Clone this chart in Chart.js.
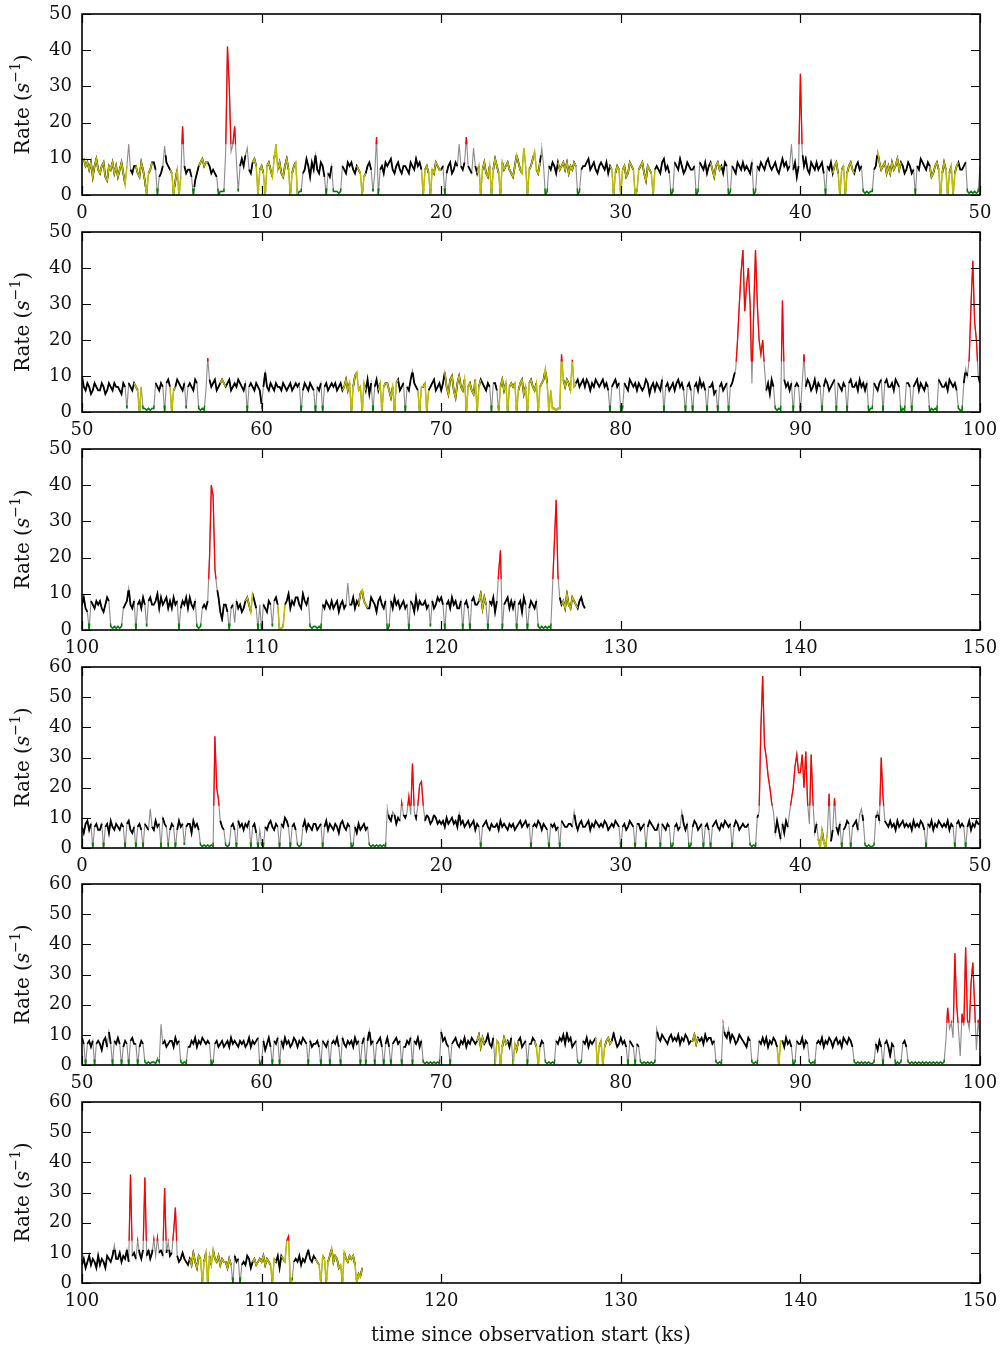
<!DOCTYPE html>
<html><head><meta charset="utf-8">
<script src="https://cdn.jsdelivr.net/npm/chart.js@4.4.0/dist/chart.umd.min.js"></script>
<style>
html,body{margin:0;padding:0;background:#fff;}
#wrap{position:relative;width:1002px;height:1351px;overflow:hidden;background:#fff;}
#wrap canvas{position:absolute;left:0;}
</style></head><body><div id="wrap"></div>
<script>
// ---- sampling of the light curves (ks) ----
const STEP_KS = 0.1;
const panelStarts = [0, 50, 100, 0, 50, 100];
const panelEnds   = [50, 100, 150, 50, 100, 150];
const panelYMax   = [50, 50, 50, 60, 60, 60];
const xTickStep = 10;
const yTickStep = 10;

// ---- count rates (s^-1), one value every STEP_KS, one row per ks ----
const rate1 = [
10,10,8,9,7,9,5,8,10,7,
6,8,9,5,4,8,7,9,6,8,
5,7,9,6,3,8,14,7,6,8,
8,6,5,9,7,4,0,6,7,9,
9,7,0,5,6,8,13.5,9,8,7,
6,0,4,7,0,5,19,8,6,7,
7,5,0,4,6,8,9,10,8,9,
9,8,6,7,6,5,0,1,1,1,
12,41,30,12,14,19,9,1,8,10,
8,11,13,7,6,9,10,8,0,7,
8,6,0,8,9,7,5,10,14,7,
9,6,5,8,10,7,0,6,8,9,
0,1,1,6,7,10,8,5,9,7,
11,7,6,9,8,5,0,6,5,8,
1,1,1,0.5,1,8,7,6,9,8,
9,7,6,8,7,6,0,5,6,8,
9,7,1,6,16,0,7,8,6,9,
8,9,10,7,6,8,9,7,6,8,
8,7,6,9,8,7,10,8,9,7,
0,7,8,6,0,7,6,9,8,7,
7,8,0,6,8,9,6,7,9,8,
14,8,7,9,16,8,7,6,13,8,
6,8,0,7,9,6,5,8,0,7,
10,8,6,0,9,7,8,9,7,6,
5,8,11,9,7,6,13,8,0,7,
8,10,12,7,6,9,13,8,0,1,
8,7,9,8,6,9,7,8,9,7,
9,6,8,7,9,8,0,1,7,8,
8,9,10,7,8,9,7,6,8,9,
8,7,9,6,8,7,0,6,8,7,
0,7,8,5,6,9,8,7,0,1,
7,8,9,6,4,8,7,6,0,7,
8,7,6,9,10,7,8,6,0,1,
9,8,7,10,8,6,7,9,8,7,
7,8,0,1,9,8,7,9,6,8,
9,7,5,8,9,7,8,6,9,8,
0,1,8,7,6,9,8,7,9,7,
8,7,6,9,0,1,8,7,9,8,
7,9,10,8,7,8,9,7,6,8,
10,8,9,7,8,14,7,9,5,8,
33.5,12,8,10,7,6,9,8,7,9,
7,8,9,6,0,8,7,9,6,8,
9,6,0,7,8,0,6,8,9,7,
6,8,9,7,8,1,0.5,1,0.5,1,
1,7,8,12,9,7,8,9,6,8,
6,9,7,8,10,7,9,8,6,7,
9,8,6,7,0,8,7,10,9,8,
7,9,8,5,6,8,9,7,0,6,
9,7,0,6,8,0,6,8,9,7,
7,8,9,1,0.5,1,0.5,1,0.5,1,
8];
const rate2 = [
10,7,6,8,7,5,6,8,7,6,
6,8,7,5,6,8,7,6,8,7,
7,6,5,8,7,1,8,7,6,8,
7,6,0,7,1,1,0.5,1,0.5,1,
1,8,7,6,8,7,0,8,9,7,
0,6,7,9,8,7,6,8,1,7,
8,7,6,9,8,1,0.5,1,0.5,6,
15,9,7,8,9,6,7,8,9,8,
7,8,9,6,7,8,7,9,8,7,
6,8,0,7,8,7,6,8,7,6,
2,7,11,7,6,8,7,6,8,7,
7,6,8,7,6,7,8,6,7,8,
7,8,0,6,8,7,6,8,7,6,
0,7,6,8,0,7,8,6,7,8,
7,8,6,7,8,6,7,9,6,8,
0,7,10,11,6,7,0,8,6,9,
5,8,0,7,9,6,8,0,7,8,
8,6,4,7,0,8,9,6,7,8,
0,7,6,9,11.5,8,7,6,0,7,
7,8,0,6,7,8,9,6,7,8,
6,8,11,7,5,9,10,6,4,8,
10,7,6,9,0,7,8,6,5,9,
0,7,9,8,7,6,8,7,0,8,
8,6,0,7,9,6,8,0,7,8,
7,8,0,6,8,9,5,7,0,8,
9,7,6,8,0,7,8,9,12,8,
0,6,1,1,0.5,1,1,16,9,7,
9,8,6,14.5,7,8,9,7,8,9,
7,9,8,6,8,7,9,8,7,8,
9,7,8,6,0,7,8,9,7,8,
0,1,8,7,6,9,8,7,8,6,
8,7,6,7,9,8,5,7,8,6,
8,7,6,9,0,7,8,6,7,8,
6,8,9,7,8,6,0,7,8,6,
0,7,8,6,9,7,8,6,0,7,
7,8,5,6,0,7,8,6,7,8,
0,7,8,10,12,20,30,39,45,28,
35,40,30,8,28,45,30,20,16,20,
12,6,8,5,9,7,1,0.5,1,0.5,
31,9,7,8,6,8,0,7,8,7,
0,8,16,7,9,8,6,7,9,6,
8,7,0,7,9,8,6,7,8,9,
0,8,7,6,8,7,0,8,9,7,
7,8,6,9,7,8,6,8,0,1,
1,8,7,6,8,9,0,8,9,7,
7,8,6,9,8,7,0,1,0.5,8,
8,7,0,7,8,9,6,8,7,6,
8,7,0,1,0.5,1,0.5,9,8,7,
7,8,6,9,8,7,8,6,1,0.5,
0.5,8,12,10,15,30,42,25,20,10,
8];
const rate3 = [
7,9,6,5,0,8,7,6,8,7,
8,6,5,7,9,8,1,0.5,1,0.5,
1,0.5,1,6,7,8,11.5,7,6,8,
0,7,8,6,9,7,1,8,9,7,
7,8,10,6,9,7,8,9,6,8,
6,9,7,8,0,6,8,7,9,6,
9,7,6,8,1,0.5,1,6,7,6,
8,20,40,37,17,12,9,5,3,7,
7,5,0,6,7,2,8,6,7,5,
6,8,9,7,5,10,8,6,0,7,
0,7,6,5,8,7,1,8,9,7,
0,0.5,1,7,8,10,6,8,7,9,
9,7,6,10,8,7,9,1,0.5,1,
1,0.5,1,0.5,7,6,8,7,6,8,
6,7,8,5,7,8,6,7,13,7,
7,9,6,8,7,10,11,8,7,6,
6,9,8,7,5,8,9,7,6,8,
0,1,8,6,9,7,8,6,7,8,
6,7,0,8,7,5,9,6,8,7,
7,8,6,7,1,8,6,7,9,8,
9,7,0,7,8,6,9,7,8,6,
6,8,0,7,8,6,0,8,9,7,
7,8,10,6,9,7,0,8,7,9,
5,8,16,22,0,7,8,9,6,8,
6,8,0,7,8,5,9,7,0,6,
8,7,6,8,1,0.5,1,0.5,1,0.5,
1,0.5,12,24,36,15,9,7,8,6,
10,7,6,9,8,7,6,8,9,7,
6];
const rate4 = [
7,5,8,9,6,8,0,7,8,6,
6,8,0,7,8,5,9,7,6,8,
7,6,8,7,0,8,9,6,5,7,
0,7,8,6,0,8,7,6,13,7,
6,9,7,8,0,10,8,7,1,6,
8,7,0,6,9,7,8,1,7,8,
8,5,9,7,8,6,1,0.5,1,0.5,
1,0.5,1,0.5,37,20,16,9,7,6,
1,0.5,1,7,8,6,0,9,7,8,
6,8,7,9,0,7,8,5,0,6,
1,0.5,7,6,8,9,7,6,8,7,
0,8,7,10,9,7,0,7,8,6,
1,0.5,1,7,9,6,8,7,6,8,
8,6,7,8,0,7,9,6,8,7,
6,8,7,5,8,9,7,6,8,7,
0,1,7,5,8,6,7,8,6,7,
1,0.5,1,0.5,1,0.5,1,0.5,1,0.5,
13,10,9,12,11,8,10,9,15,11,
10,12,17,11,28,12,10,14,21,22,
14,9,11,10,8,9,11,10,8,9,
8,9,7,10,8,9,10,8,9,7,
11.5,8,9,7,8,9,7,8,9,6,
8,7,0,7,8,9,7,6,8,7,
7,8,6,9,7,8,7,6,8,7,
8,6,7,8,9,7,8,9,7,8,
0,7,8,7,9,8,6,8,7,6,
0,8,7,8,6,7,0,9,8,7,
7,8,8,7,12,8,6,8,9,7,
7,8,9,6,8,7,9,8,7,8,
7,9,8,6,7,8,7,9,8,7,
0,7,8,6,7,9,8,7,0,8,
8,6,7,8,0,7,9,8,7,6,
6,8,0,8,7,6,8,7,0,1,
7,8,6,7,12,8,6,8,0,1,
7,9,8,6,7,8,0,7,8,6,
0,7,8,9,7,6,8,7,9,8,
7,8,0,7,9,8,6,7,8,7,
7,8,1,0.5,1,0.5,10,12,40,57,
34,30,24,20,15,12,5,9,6,3,
8,5,9,7,12,16,20,27,31,25,
25,31,20,32,15,8,31,15,5,8,
3,0,6,2,0,5,18,2,6,16.5,
7,5,8,0,6,7,9,8,0,7,
8,9,6,11,13,9,1,0.5,1,0.5,
0.5,1,10,12,9,30,17,9,8,7,
9,7,8,6,9,7,8,9,7,8,
7,8,6,9,7,8,7,9,8,6,
0,8,7,9,6,8,7,9,8,7,
8,7,9,6,8,7,0,8,9,7,
8,7,0,7,9,6,8,7,9,8,
8];
const rate5 = [
9,7,0,7,8,6,8,0,7,8,
7,5,8,9,6,11,7,0,8,7,
9,7,0,6,8,7,0,8,9,7,
7,0,6,8,7,1,0.5,1,0.5,1,
1,0.5,2,1,13.5,7,8,6,7,8,
8,6,9,7,8,1,0.5,1,0.5,6,
6,8,7,9,6,8,7,9,8,7,
8,7,0,1,7,8,6,7,8,6,
7,8,6,9,7,8,7,6,8,7,
8,6,7,9,6,8,7,8,9,0,
1,8,5,7,9,6,0,8,7,9,
0,8,6,9,7,8,6,7,9,8,
6,8,7,9,8,7,0,8,6,7,
7,8,6,0,8,7,6,8,0,7,
8,7,9,6,0,9,7,6,8,7,
8,6,9,7,8,0,7,9,0,8,
11.5,7,8,0,7,8,9,6,0,7,
9,6,0,7,8,9,7,8,0,6,
6,8,7,9,0,8,7,9,6,8,
1,0.5,1,0.5,1,0.5,1,0.5,1,0.5,
11,8,9,7,6,0,7,8,9,7,
6,8,7,9,6,8,7,9,8,7,
8,10,6,9,7,8,10,7,6,9,
0,8,7,0,6,9,7,8,6,9,
0,7,5,8,9,6,7,8,0,7,
7,9,8,6,0,6,8,7,1,0.5,
1,0.5,1,0.5,8,7,9,8,10,7,
10.5,8,9,6,7,8,1,0.5,1,8,
7,9,6,8,7,8,9,0,6,8,
0,6,8,9,7,8,10.5,8,6,7,
9,7,8,6,0,8,7,6,0,7,
6,1,0.5,1,0.5,1,0.5,1,0.5,1,
12,9,8,10,9,8,7,9,10,8,
9,8,10,7,9,8,10,9,7,8,
8,10,7,9,8,9,7,10,8,9,
9,7,8,1,0.5,1,0.5,13.5,10,9,
12,8,10,9,7,8,10,9,8,7,
6,9,8,1,0.5,1,0.5,8,7,9,
7,9,6,8,7,9,8,6,0,8,
8,6,9,7,8,6,0,1,8,7,
7,9,6,8,7,1,0.5,1,0.5,7,
8,7,9,6,8,7,9,8,6,8,
9,7,8,6,9,8,7,9,8,6,
1,0.5,1,0.5,1,0.5,1,0.5,1,0.5,
0.5,1,7,5,8,6,0,7,8,6,
3,7,6,0,1,0.5,1,7,8,6,
1,0.5,1,0.5,1,0.5,1,0.5,1,0.5,
1,0.5,1,0.5,1,0.5,1,0.5,1,0.5,
1,8,19,12,14,9,37,20,12,3,
17,13,39,15,12,27,34,20,5,15,
8];
const rate6 = [
6,8,5,7,9,6,8,7,5,9,
6,8,7,5,9,8,7,9,12.5,8,
8,10,7,9,8,11,7,36,9,10,
8,14,10,8,11,35,9,11,8,10,
14.5,9,15,10,11,9,31.5,10,13.5,9,
10,17,25,9,7,8,10,8,7,6,
8,6,10,7,5,9,8,0,7,10,
0,9,6,11,8,7,9,6,8,7,
7,5,8,6,0,9,7,8,0,6,
7,6,9,8,5,7,8,6,7,8,
7,9,6,8,7,6,0,8,7,9,
5,9,8,7,14,15.5,0,1,7,8,
7,9,6,8,7,9,11,8,7,9,
8,7,6,0,9,8,0,7,9,11.5,
7,9,8,5,6,0,10,8,7,9,
8,9,6,0,3,2,5];

// ---- time ranges (ks) drawn in yellow ----
const yellow1 = [[0,2.5],[3.0,3.9],[4.9,5.5],[6.5,7.0],[9.5,12.0],[15.3,15.8],[18.9,20.0],[22.0,25.5],[26.5,27.5],[29.4,31.9],[35.0,35.6],[41.8,43.0],[44.3,45.6],[47.2,48.8]];
const yellow2 = [[52.9,53.3],[54.9,55.2],[57.7,58.0],[64.5,65.8],[66.5,67.6],[68.7,69.3],[70.2,72.2],[73.2,77.5]];
const yellow3 = [[109.1,109.5],[110.9,111.3],[115.4,115.9],[122.1,122.5],[126.7,127.6]];
const yellow4 = [[41.0,41.5]];
const yellow5 = [[72.0,72.4],[73.0,73.7],[74.0,74.3],[75.2,75.5],[78.6,79.5],[83.9,84.3],[88.7,89.0]];
const yellow6 = [[106.0,108.3],[109.5,110.8],[111.1,111.7],[113.0,115.8]];

// ---- rate thresholds used for colouring ----
const lowLevel = 1.8;              // green below
const midLow = 2.2, midHigh = 11;  // black band
const flareLevel = 14;             // red above
const jumpLimit = 4.5;             // steep steps shown grey

const yLabelText = ['Rate (', 's', '\u22121', ')'];
const xLabelText = 'time since observation start (ks)';

const allRates = [rate1, rate2, rate3, rate4, rate5, rate6];
const allYellow = [yellow1, yellow2, yellow3, yellow4, yellow5, yellow6];

// ---- layout (pixels) ----
const plotTops = [14, 232, 449, 667, 884, 1102];
const plotBottoms = [195, 412, 630, 848, 1065, 1283];
const PADTOP = 30, PADRIGHT = 60, CANVAS_W = 1040, XAXIS_H = 32, XAXIS_H_LAST = 70;

const GRAY = '#8c8c8c', GREEN = '#008000', BLACK = '#000000', YELLOW = '#bfbf00', RED = '#ff0000', NONE = 'rgba(0,0,0,0)';
const FONT = '"DejaVu Serif", serif';

const bandClip = {
  id: 'bandClip',
  beforeDatasetDraw(chart, args) {
    const ds = chart.data.datasets[args.index];
    if (!ds.band) return;
    const y = chart.scales.y, a = chart.chartArea, ctx = chart.ctx;
    const top = ds.band[1] == null ? a.top - 5 : y.getPixelForValue(ds.band[1]);
    const bot = ds.band[0] == null ? a.bottom + 5 : y.getPixelForValue(ds.band[0]);
    ctx.save();
    ctx.beginPath();
    ctx.rect(a.left - 5, top, a.width + 10, bot - top);
    ctx.clip();
  },
  afterDatasetDraw(chart, args) {
    if (chart.data.datasets[args.index].band) chart.ctx.restore();
  }
};

const frame = {
  id: 'frame',
  afterDraw(chart, args, opts) {
    const {ctx, chartArea: a, scales: {x, y}} = chart;
    ctx.save();
    ctx.strokeStyle = '#000';
    ctx.lineWidth = 1.2;
    ctx.beginPath();
    x.ticks.forEach(t => {
      const px = Math.round(x.getPixelForValue(t.value)) + 0.5;
      ctx.moveTo(px, a.bottom); ctx.lineTo(px, a.bottom - 9);
      ctx.moveTo(px, a.top); ctx.lineTo(px, a.top + 9);
    });
    y.ticks.forEach(t => {
      const py = Math.round(y.getPixelForValue(t.value)) + 0.5;
      ctx.moveTo(a.left, py); ctx.lineTo(a.left + 9, py);
      ctx.moveTo(a.right, py); ctx.lineTo(a.right - 9, py);
    });
    ctx.stroke();
    ctx.lineWidth = 1.6;
    ctx.strokeRect(a.left, a.top, a.width, a.height);

    // y title
    ctx.fillStyle = '#111';
    ctx.translate(24, (a.top + a.bottom) / 2);
    ctx.rotate(-Math.PI / 2);
    const fonts = ['20px ' + FONT, 'italic 20px ' + FONT, '14px ' + FONT, '20px ' + FONT];
    const shifts = [0, 0, -8, 0];
    let w = 0;
    yLabelText.forEach((s, i) => { ctx.font = fonts[i]; w += ctx.measureText(s).width; });
    let xx = -w / 2;
    ctx.textBaseline = 'middle';
    yLabelText.forEach((s, i) => { ctx.font = fonts[i]; ctx.fillText(s, xx, shifts[i]); xx += ctx.measureText(s).width; });
    ctx.restore();

    if (opts.xTitle) {
      ctx.save();
      ctx.fillStyle = '#111';
      ctx.font = '19.5px ' + FONT;
      ctx.textAlign = 'center';
      ctx.textBaseline = 'middle';
      ctx.fillText(xLabelText, (a.left + a.right) / 2, a.bottom + 53);
      ctx.restore();
    }
  }
};

const wrap = document.getElementById('wrap');
allRates.forEach((rates, k) => {
  const last = k === allRates.length - 1;
  const xh = last ? XAXIS_H_LAST : XAXIS_H;
  const h = PADTOP + (plotBottoms[k] - plotTops[k]) + xh;
  const cv = document.createElement('canvas');
  cv.width = CANVAS_W; cv.height = h;
  cv.style.top = (plotTops[k] - PADTOP) + 'px';
  cv.style.width = CANVAS_W + 'px'; cv.style.height = h + 'px';
  wrap.appendChild(cv);

  const start = panelStarts[k];
  const pts = rates.map((v, i) => ({x: +(start + i * STEP_KS).toFixed(3), y: v}));
  const yl = allYellow[k];
  const inYellow = t => yl.some(r => t >= r[0] && t <= r[1]);
  const base = {data: pts, borderWidth: 1.3, pointRadius: 0, tension: 0, fill: false};

  new Chart(cv, {
    type: 'line',
    data: {
      datasets: [
        Object.assign({}, base, {borderColor: RED, band: [flareLevel, null]}),
        Object.assign({}, base, {borderColor: YELLOW, borderWidth: 1.5, band: [null, flareLevel],
          segment: {borderColor: c => inYellow((c.p0.parsed.x + c.p1.parsed.x) / 2) ? YELLOW : NONE}}),
        Object.assign({}, base, {borderColor: BLACK, borderWidth: 1.8, band: [midLow, midHigh],
          segment: {borderColor: c => Math.abs(c.p1.parsed.y - c.p0.parsed.y) > jumpLimit ? NONE : BLACK}}),
        Object.assign({}, base, {borderColor: GREEN, borderWidth: 1.5, band: [null, lowLevel]}),
        Object.assign({}, base, {borderColor: GRAY, borderWidth: 1.1})
      ]
    },
    options: {
      responsive: false,
      animation: false,
      events: [],
      layout: {autoPadding: false, padding: {top: PADTOP, right: PADRIGHT, left: 0, bottom: 0}},
      plugins: {legend: {display: false}, tooltip: {enabled: false}, frame: {xTitle: last}},
      scales: {
        x: {
          type: 'linear', min: panelStarts[k], max: panelEnds[k],
          grid: {display: false, drawTicks: false, tickLength: 0},
          border: {display: false},
          ticks: {stepSize: xTickStep, padding: 8, color: '#111', font: {family: FONT, size: 18}, maxRotation: 0},
          afterFit: s => { s.height = xh; }
        },
        y: {
          min: 0, max: panelYMax[k],
          grid: {display: false, drawTicks: false, tickLength: 0},
          border: {display: false},
          ticks: {stepSize: yTickStep, padding: 10, color: '#111', font: {family: FONT, size: 18}},
          afterFit: s => { s.width = 82; }
        }
      }
    },
    plugins: [bandClip, frame]
  });
});
</script>
</body></html>
